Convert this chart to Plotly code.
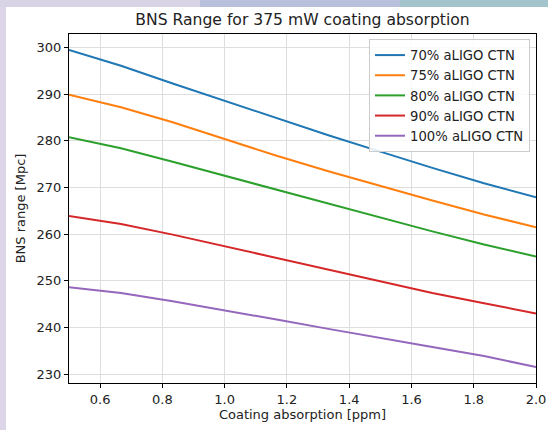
import plotly.graph_objects as go

absorption_ppm = [0.5, 0.667, 0.833, 1.0, 1.167, 1.333, 1.5, 1.667, 1.833, 2.0]
series_names = ["70% aLIGO CTN", "75% aLIGO CTN", "80% aLIGO CTN", "90% aLIGO CTN", "100% aLIGO CTN"]
range_70 = [299.5, 296.1, 292.3, 288.6, 284.9, 281.2, 277.7, 274.2, 270.9, 267.9]
range_75 = [289.9, 287.2, 284.0, 280.4, 276.8, 273.5, 270.3, 267.2, 264.2, 261.5]
range_80 = [280.8, 278.4, 275.5, 272.5, 269.5, 266.6, 263.5, 260.6, 257.8, 255.2]
range_90 = [263.9, 262.2, 259.9, 257.4, 254.8, 252.3, 249.8, 247.4, 245.2, 243.0]
range_100 = [248.6, 247.4, 245.6, 243.7, 241.7, 239.7, 237.7, 235.8, 233.9, 231.5]
x_ticks = [0.6, 0.8, 1.0, 1.2, 1.4, 1.6, 1.8, 2.0]
y_ticks = [230, 240, 250, 260, 270, 280, 290, 300]
colors = ["#1f77b4", "#ff7f0e", "#2ca02c", "#d62728", "#9467bd"]

all_series = [range_70, range_75, range_80, range_90, range_100]

fig = go.Figure()
for name, vals, c in zip(series_names, all_series, colors):
    fig.add_trace(go.Scatter(x=absorption_ppm, y=vals, mode="lines", name=name,
                             line=dict(color=c, width=2)))

L, R, T, B = 69, 12, 34, 47
W, H = 548, 430
pw, ph = W - L - R, H - T - B

def px_x(p):
    return (p - L) / pw

def px_y(p):
    return (H - B - p) / ph

shapes = [
    dict(type="rect", xref="paper", yref="paper", x0=px_x(0), x1=px_x(200), y0=px_y(7), y1=px_y(0),
         fillcolor="#d9d3e6", line_width=0, layer="below"),
    dict(type="rect", xref="paper", yref="paper", x0=px_x(200), x1=px_x(400), y0=px_y(7), y1=px_y(0),
         fillcolor="#b9c0dc", line_width=0, layer="below"),
    dict(type="rect", xref="paper", yref="paper", x0=px_x(400), x1=px_x(548), y0=px_y(7), y1=px_y(0),
         fillcolor="#a4c4cc", line_width=0, layer="below"),
    dict(type="rect", xref="paper", yref="paper", x0=px_x(6), x1=px_x(548), y0=px_y(430), y1=px_y(7),
         fillcolor="white", line_width=0, layer="below"),
]

axis_common = dict(
    showline=True, linecolor="black", linewidth=1, mirror=True,
    ticks="outside", ticklen=4, tickcolor="black", tickwidth=1,
    showgrid=True, gridcolor="#dedede", gridwidth=1, zeroline=False,
    tickfont=dict(size=13, color="#222"), automargin=False,
)

fig.update_layout(
    width=W, height=H,
    margin=dict(l=L, r=R, t=T, b=B, autoexpand=False),
    paper_bgcolor="#dcd6e8", plot_bgcolor="white",
    font=dict(family="DejaVu Sans", color="#222", size=13),
    title=dict(text="BNS Range for 375 mW coating absorption", x=0.5, xref="paper",
               y=1 - 20 / H, yanchor="middle", font=dict(size=15.6, color="#222")),
    shapes=shapes,
    showlegend=True,
    legend=dict(x=px_x(530), xanchor="right", y=px_y(39), yanchor="top",
                bgcolor="rgba(255,255,255,0.85)", bordercolor="#cccccc", borderwidth=1,
                font=dict(size=13.2), itemwidth=30, tracegroupgap=0),
)
fig.update_xaxes(range=[0.5, 2.0], tickvals=x_ticks, tickformat=".1f",
                 title=dict(text="Coating absorption [ppm]", font=dict(size=13), standoff=3),
                 **axis_common)
fig.update_yaxes(range=[228.1, 302.9], tickvals=y_ticks,
                 title=dict(text="BNS range [Mpc]", font=dict(size=13), standoff=8),
                 **axis_common)

fig.write_html(
    "out.html",
    config={"displayModeBar": False},
    post_script="document.documentElement.style.overflow='hidden';document.body.style.margin='0';document.body.style.overflow='hidden';",
)
